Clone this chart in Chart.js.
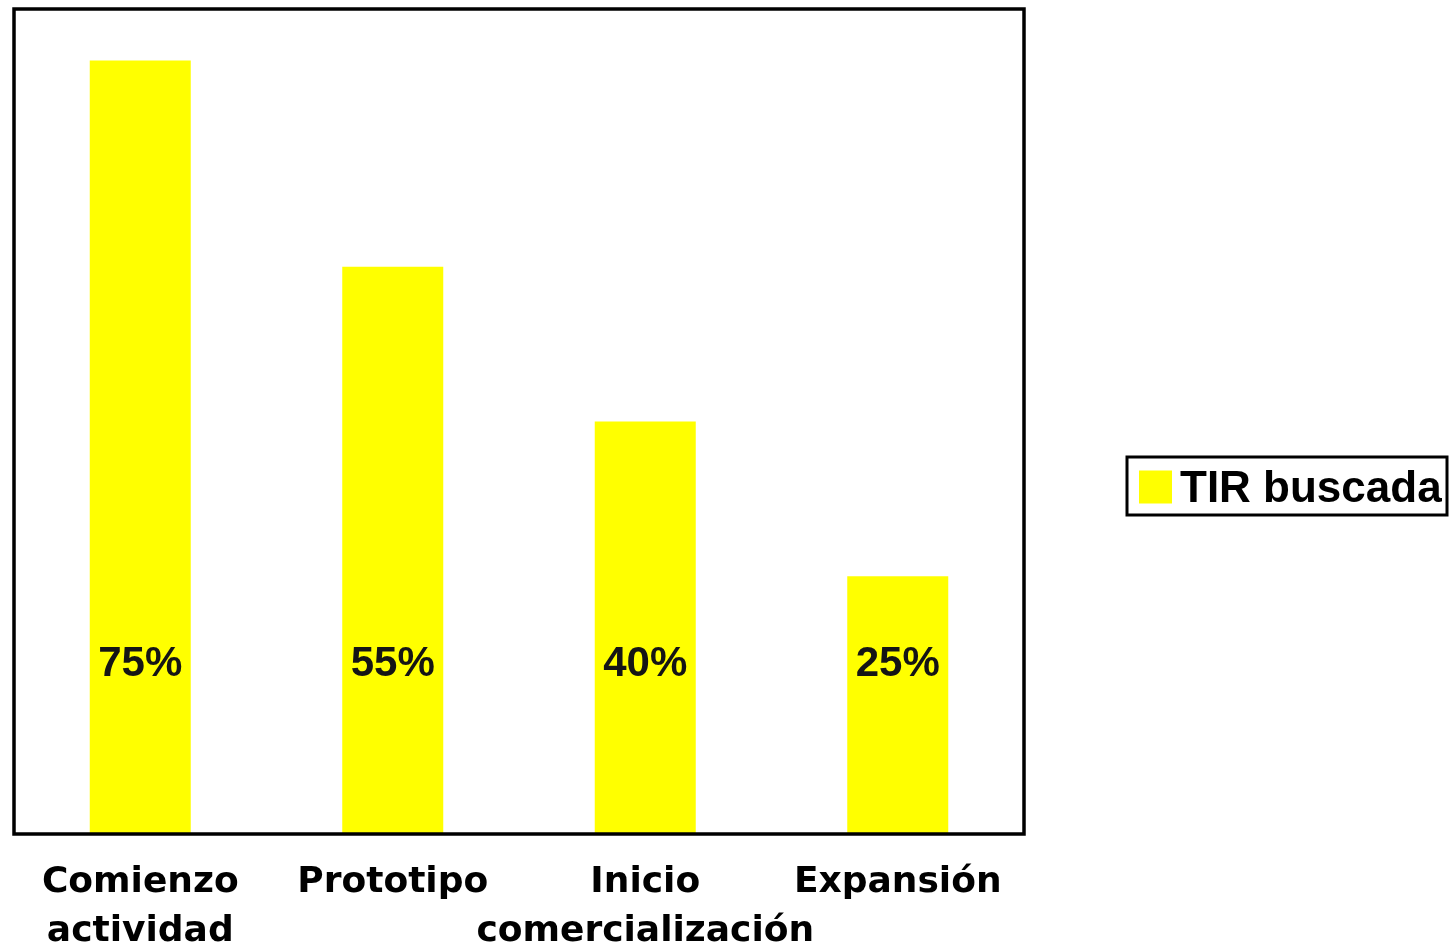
<!DOCTYPE html>
<html lang="es">
<head>
<meta charset="utf-8">
<title>TIR buscada por etapa</title>
<script src="https://cdn.jsdelivr.net/npm/chart.js@4.4.1/dist/chart.umd.min.js"></script>
<style>
  html, body { margin: 0; padding: 0; background: #ffffff; }
  #wrap { position: relative; width: 1450px; height: 948px; }
</style>
</head>
<body>
<div id="wrap"><canvas id="chart"></canvas></div>
<script>
// Etapas de la empresa (etiquetas del eje X, en dos líneas cuando hace falta)
const categories = [
  ['Comienzo', 'actividad'],
  'Prototipo',
  ['Inicio', 'comercialización'],
  'Expansión'
];
// TIR buscada en cada etapa (%)
const tirValues = [75, 55, 40, 25];
const seriesName = 'TIR buscada';
const axisMin = 0;
const axisMax = 80;

const barYellow = '#ffff00';

// Marco negro alrededor del área del gráfico
const framePlugin = {
  id: 'frame',
  afterDraw(chart) {
    const { ctx, chartArea: a } = chart;
    ctx.save();
    ctx.strokeStyle = '#000000';
    ctx.lineWidth = 3.5;
    ctx.strokeRect(a.left, a.top, a.right - a.left, a.bottom - a.top);
    ctx.restore();
  }
};

// Porcentaje escrito dentro de cada barra
const valueLabelPlugin = {
  id: 'valueLabels',
  afterDatasetsDraw(chart, args, opts) {
    const { ctx, scales } = chart;
    const meta = chart.getDatasetMeta(0);
    const data = chart.data.datasets[0].data;
    const y = scales.y.getPixelForValue(opts.anchor);
    ctx.save();
    ctx.font = 'bold 42px "Liberation Sans", Arial, sans-serif';
    ctx.fillStyle = '#151515';
    ctx.textAlign = 'center';
    ctx.textBaseline = 'middle';
    meta.data.forEach((bar, i) => {
      ctx.fillText(data[i] + '%', bar.x, y);
    });
    ctx.restore();
  }
};

// Leyenda enmarcada a la derecha
const boxedLegendPlugin = {
  id: 'boxedLegend',
  afterDraw(chart, args, opts) {
    const { ctx } = chart;
    const ds = chart.data.datasets[0];
    const x = opts.x, y = opts.y, w = opts.width, h = opts.height;
    ctx.save();
    ctx.fillStyle = '#ffffff';
    ctx.fillRect(x, y, w, h);
    ctx.strokeStyle = '#000000';
    ctx.lineWidth = 3;
    ctx.strokeRect(x, y, w, h);
    const sw = 33;
    ctx.fillStyle = ds.backgroundColor;
    ctx.fillRect(x + 12, y + (h - sw) / 2 + 1, sw, sw);
    ctx.font = 'bold 44px "Liberation Sans", Arial, sans-serif';
    ctx.fillStyle = '#000000';
    ctx.textAlign = 'left';
    ctx.textBaseline = 'middle';
    ctx.fillText(ds.label, x + 53, y + h / 2 + 4);
    ctx.restore();
  }
};

new Chart(document.getElementById('chart'), {
  type: 'bar',
  data: {
    labels: categories,
    datasets: [{
      label: seriesName,
      data: tirValues,
      backgroundColor: barYellow,
      borderWidth: 0,
      barPercentage: 0.4,
      categoryPercentage: 1.0
    }]
  },
  options: {
    responsive: true,
    maintainAspectRatio: false,
    animation: false,
    layout: { padding: { left: 14, top: 9, right: 426, bottom: 0 } },
    plugins: {
      legend: { display: false },
      tooltip: { enabled: false },
      valueLabels: { anchor: 16.4 },
      boxedLegend: { x: 1127, y: 457, width: 320, height: 58 }
    },
    scales: {
      x: {
        grid: { display: false, drawTicks: false },
        border: { display: false },
        ticks: {
          color: '#000000',
          padding: 24,
          maxRotation: 0,
          autoSkip: false,
          font: { family: '"DejaVu Sans", sans-serif', size: 36, weight: 'bold', lineHeight: 1.36 }
        },
        afterFit(scale) { scale.height = 948 - 834; }
      },
      y: {
        display: false,
        min: axisMin,
        max: axisMax,
        grid: { display: false }
      }
    }
  },
  plugins: [framePlugin, valueLabelPlugin, boxedLegendPlugin]
});
</script>
</body>
</html>
